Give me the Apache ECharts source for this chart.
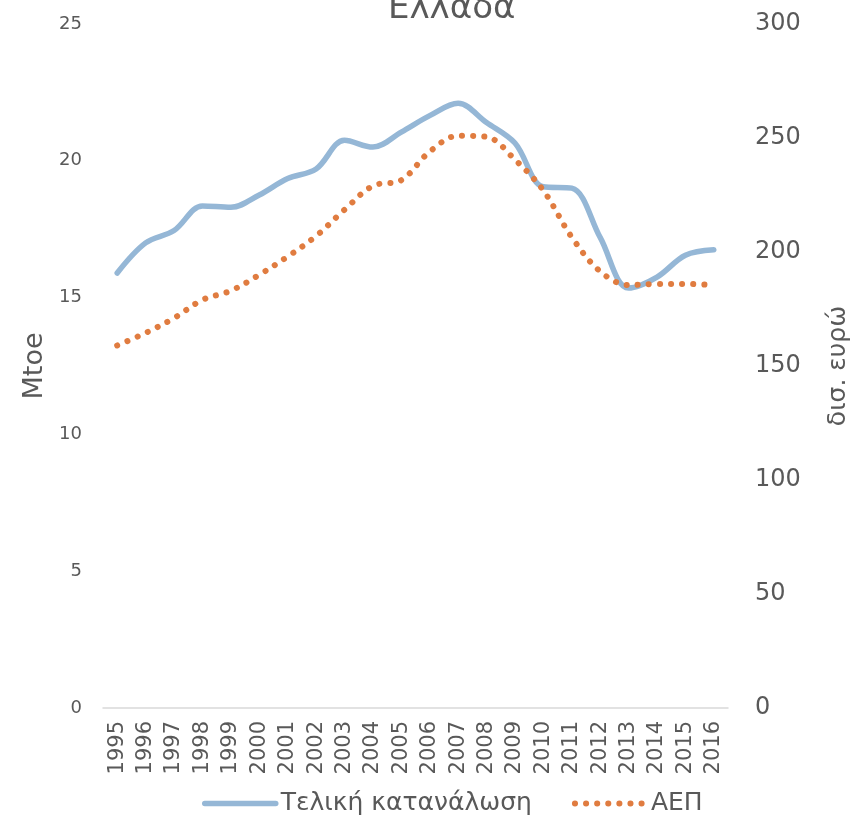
<!DOCTYPE html>
<html>
<head>
<meta charset="utf-8">
<script src="https://cdn.jsdelivr.net/npm/echarts@6/dist/echarts.min.js"></script>
<style>
html, body { margin: 0; padding: 0; background: #fff; }
#main { width: 865px; height: 829px; }
</style>
</head>
<body>
<div id="main"></div>
<script>
// έτη
var years = ['1995', '1996', '1997', '1998', '1999', '2000', '2001', '2002', '2003', '2004', '2005',
	'2006', '2007', '2008', '2009', '2010', '2011', '2012', '2013', '2014', '2015', '2016'];

// Τελική κατανάλωση (Mtoe)
var consumption = [15.9, 17.0, 17.45, 18.35, 18.3, 18.75, 19.35, 19.7, 20.75, 20.5, 21.05,
	21.65, 22.1, 21.4, 20.65, 19.05, 19.0, 17.2, 15.35, 15.75, 16.55, 16.75];

// ΑΕΠ (δισ. ευρώ)
var gdp = [159, 164.5, 171, 179, 183, 190, 198, 207, 218.5, 229, 231.5,
	244, 251, 250.5, 240.5, 227, 206.5, 191.5, 185.5, 186, 186, 185.5];

var leftTicks = [0, 5, 10, 15, 20, 25];
var rightTicks = [0, 50, 100, 150, 200, 250, 300];

var textColor = '#595959';
var font = 'DejaVu Sans';

var myChart = echarts.init(document.getElementById('main'));

var option = {
	backgroundColor: '#ffffff',
	animation: false,
	title: {
		text: 'Ελλάδα',
		left: 383,
		top: -13,
		textStyle: { color: textColor, fontSize: 34, fontWeight: 'normal', fontFamily: font }
	},
	grid: { left: 103, right: 137, top: 24, bottom: 121 },
	legend: {
		bottom: 8,
		left: 197,
		itemWidth: 71,
		itemHeight: 10,
		itemGap: 40,
		itemStyle: { opacity: 0 },
		lineStyle: { width: 'inherit' },
		textStyle: { color: textColor, fontSize: 25, fontFamily: font },
		data: ['Τελική κατανάλωση', 'ΑΕΠ']
	},
	xAxis: {
		type: 'category',
		data: years,
		boundaryGap: true,
		axisLine: { lineStyle: { color: '#d9d9d9', width: 1.5 } },
		axisTick: { show: false },
		axisLabel: { rotate: 90, margin: 13, color: textColor, fontSize: 21, fontFamily: font, interval: 0 }
	},
	yAxis: [{
		type: 'value',
		min: leftTicks[0],
		max: leftTicks[leftTicks.length - 1],
		interval: 5,
		name: 'Mtoe',
		nameLocation: 'middle',
		nameGap: 53,
		nameTextStyle: { color: textColor, fontSize: 27, fontFamily: font },
		axisLine: { show: false },
		axisTick: { show: false },
		splitLine: { show: false },
		axisLabel: { margin: 21, color: textColor, fontSize: 18, fontFamily: font }
	}, {
		type: 'value',
		min: rightTicks[0],
		max: rightTicks[rightTicks.length - 1],
		interval: 50,
		name: 'δισ. ευρώ',
		nameLocation: 'middle',
		nameGap: 98,
		nameRotate: 90,
		nameTextStyle: { color: textColor, fontSize: 25, fontFamily: font },
		axisLine: { show: false },
		axisTick: { show: false },
		splitLine: { show: false },
		axisLabel: { margin: 27, color: textColor, fontSize: 24, fontFamily: font }
	}],
	series: [{
		name: 'Τελική κατανάλωση',
		type: 'line',
		yAxisIndex: 0,
		data: consumption,
		smooth: 0.35,
		symbol: 'none',
		itemStyle: { color: '#95b7d6' },
		lineStyle: { color: '#95b7d6', width: 5.5, cap: 'round', join: 'round' }
	}, {
		name: 'ΑΕΠ',
		type: 'line',
		yAxisIndex: 1,
		data: gdp,
		smooth: 0.35,
		symbol: 'none',
		itemStyle: { color: '#e07c40' },
		lineStyle: { color: '#e07c40', width: 6, type: [0.1, 11], cap: 'round' }
	}]
};

myChart.setOption(option);
</script>
</body>
</html>
